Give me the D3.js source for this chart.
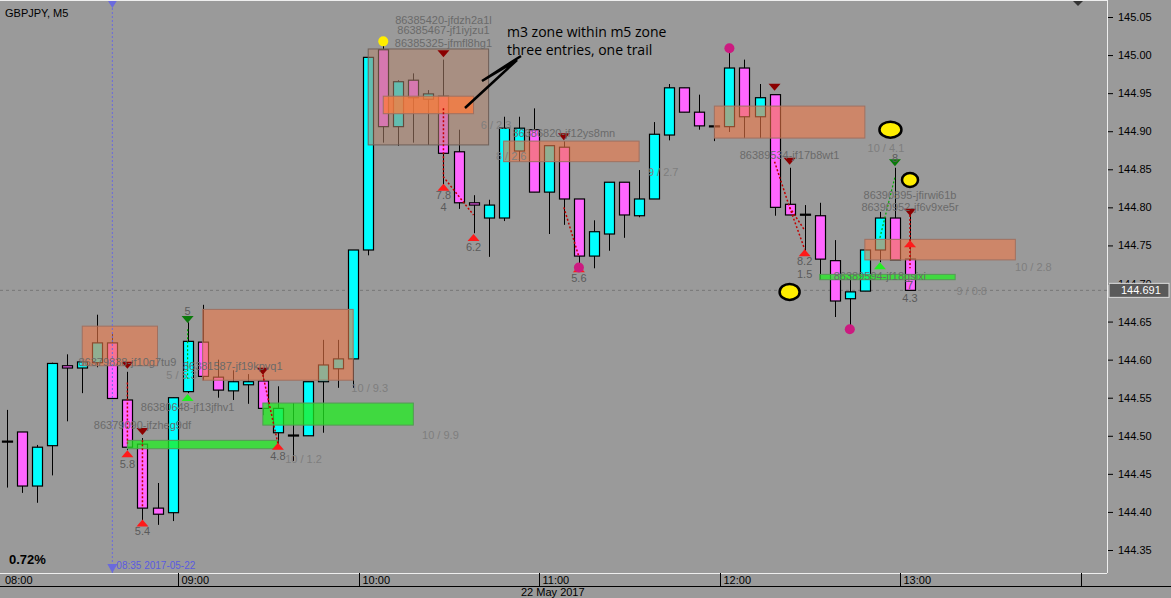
<!DOCTYPE html><html><head><meta charset="utf-8">
<script src="https://cdn.jsdelivr.net/npm/d3@7"></script>
<style>body{margin:0;background:#9a9a9a}svg{display:block;font-family:"Liberation Sans",Arial,sans-serif}</style></head><body>
<svg id="c" width="1171" height="598"></svg>
<script>
// ---- data ----
const opens  =[144.493,144.505,144.434,144.487,144.592,144.589,144.596,144.622,144.547,144.489,144.405,144.399,144.558,144.623,144.577,144.559,144.567,144.572,144.504,144.501,144.500,144.571,144.588,144.601,144.744,145.007,144.906,144.967,144.942,144.946,144.873,144.806,144.786,144.786,144.874,144.902,144.820,144.879,144.811,144.736,144.765,144.833,144.789,144.811,144.895,144.957,144.925,144.907,144.906,144.983,144.919,144.948,144.804,144.791,144.789,144.730,144.680,144.690,144.744,144.786,144.732];
const highs  =[144.534,144.505,144.488,144.596,144.607,144.597,144.659,144.634,144.584,144.497,144.438,144.550,144.649,144.672,144.600,144.586,144.581,144.584,144.565,144.543,144.571,144.626,144.626,144.744,144.997,145.018,144.967,144.976,144.954,144.994,144.902,144.816,144.810,144.919,144.919,144.930,144.881,144.887,144.811,144.783,144.833,144.833,144.849,144.912,144.962,144.957,144.948,144.907,145.009,144.994,144.962,144.948,144.852,144.803,144.806,144.757,144.711,144.744,144.794,144.852,144.797];
const lows   =[144.432,144.425,144.412,144.448,144.519,144.556,144.590,144.549,144.481,144.386,144.383,144.388,144.556,144.573,144.550,144.547,144.542,144.527,144.487,144.467,144.500,144.504,144.563,144.563,144.737,144.885,144.881,144.885,144.882,144.827,144.798,144.766,144.735,144.782,144.860,144.820,144.765,144.777,144.718,144.720,144.743,144.760,144.787,144.811,144.888,144.925,144.902,144.887,144.899,144.891,144.891,144.789,144.790,144.743,144.705,144.656,144.639,144.690,144.728,144.731,144.691];
const closes =[144.493,144.434,144.485,144.595,144.589,144.597,144.622,144.549,144.485,144.405,144.397,144.550,144.624,144.578,144.560,144.571,144.571,144.536,144.536,144.501,144.571,144.593,144.601,144.744,144.997,144.906,144.965,144.944,144.949,144.871,144.806,144.803,144.803,144.904,144.904,144.820,144.881,144.811,144.736,144.768,144.833,144.790,144.811,144.896,144.957,144.925,144.907,144.907,144.983,144.919,144.944,144.800,144.790,144.791,144.732,144.677,144.689,144.744,144.786,144.731,144.691];
const priceTicks=[144.35,144.40,144.45,144.50,144.55,144.60,144.65,144.70,144.75,144.80,144.85,144.90,144.95,145.00,145.05];
const timeTicks=[[0,"08:00"],[12,"09:00"],[24,"10:00"],[36,"11:00"],[48,"12:00"],[60,"13:00"],[72,""]];
// zones: [barFrom, barTo, top, bottom]
const orangeZones=[[5,10,144.644,144.592],[13,23,144.666,144.573],[33,42,144.887,144.860],[47,57,144.933,144.891],[57,67,144.758,144.731]];
const m5Zone=[24,32,145.008,144.882];
const m3Zone=[25,31,144.946,144.923];
const greenZones=[[17,27,144.543,144.514],[8,18,144.494,144.483],[54,63,144.712,144.705]];
const upTri=[[8,144.477],[9,144.386],[18,144.487],[29,144.827],[31,144.761],[38,144.720],[53,144.741],[60,144.753]];
const downTri=[[8,144.592],[9,144.505],[17,144.584],[29,145.001],[37,144.892],[51,144.957],[52,144.860],[60,144.793]];
const greenDown=[[12,144.652],[59,144.858]];
const greenUp=[[12,144.551],[58,144.724]];
const redTraces=[[[8,144.57],[8,144.49]],[[9,144.494],[9,144.405]],[[17,144.58],[18,144.49]],[[29,144.93],[29,144.84],[31,144.79]],[[37,144.80],[38,144.735]],[[51,144.86],[52,144.80],[53,144.77]],[[52,144.80],[53,144.745]],[[60,144.79],[60,144.72]]];
const greenTraces=[[[12,144.64],[12,144.575]],[[58,144.76],[59,144.84]]];
const labels=[[8,144.595,"86379838-jf10g7tu9"],[15,144.590,"86381587-jf19kpvq1"],[12,144.536,"86380648-jf13jfhv1"],[9,144.513,"86379090-jfzheg9df"],[11.6,144.579,"5 / 5.3"],[24.1,144.561,"10 / 9.3"],[19.7,144.468,"10 / 1.2"],[28.8,144.500,"10 / 9.9"],[8,144.462,"5.8"],[9,144.373,"5.4"],[18,144.472,"4.8"],[12,144.662,"5"],
 [29,145.045,"86385420-jfdzh2a1l"],[29,145.031,"86385467-jf1iyjzu1"],[29,145.015,"86385325-jfmfl8hg1"],[32.5,144.907,"6 / 2.3"],[37,144.896,"86386820-jf12ys8mn"],[33.5,144.866,"8 / 2.6"],[43.6,144.845,"9 / 2.7"],[29,144.815,"7.8"],[29,144.799,"4"],[31,144.747,"6.2"],[38,144.706,"5.6"],
 [52,144.867,"86389534-jf17b8wt1"],[58.4,144.877,"10 / 4.1"],[59,144.864,"8"],[60,144.815,"86390895-jfirwi61b"],[60,144.799,"86390952-jf6v9xe5r"],[53,144.728,"8.2"],[53,144.711,"1.5"],[58,144.709,"86389594-jf18gsixi"],[60,144.696,"7"],[60,144.680,"4.3"],[68.2,144.720,"10 / 2.8"],[64.1,144.689,"9 / 0.8"]];
const yellowBig=[[58.7,144.902,11,8],[60,144.836,8,7],[52,144.689,10,8]];
const magentaDots=[[48,145.009],[38,144.721],[56,144.640]];

// ---- scales ----
const svg=d3.select("#c");
const W=1107,H=573;
const x=d3.scaleLinear().domain([0,1]).range([7,22.05]);
const y=d3.scaleLinear().domain([144.35,145.05]).range([550,17]);
svg.append("rect").attr("width",1171).attr("height",598).attr("fill","#9a9a9a");
const g=svg.append("g");
g.append("line").attr("x1",0).attr("x2",W).attr("y1",y(144.691)).attr("y2",y(144.691)).attr("stroke","#777").attr("stroke-dasharray","3,3");
const cbw=10;
const candles=d3.range(opens.length);
const cg=g.append("g");
cg.selectAll(null).data(candles).join("line").attr("x1",i=>Math.round(x(i))+0.5).attr("x2",i=>Math.round(x(i))+0.5).attr("y1",i=>y(highs[i])).attr("y2",i=>y(lows[i])).attr("stroke","#000");
cg.selectAll(null).data(candles).join("rect").attr("x",i=>Math.round(x(i))-cbw/2+0.5).attr("width",cbw)
  .attr("y",i=>y(Math.max(opens[i],closes[i]))).attr("height",i=>Math.max(1,Math.abs(y(opens[i])-y(closes[i]))))
  .attr("fill",i=>closes[i]>opens[i]?"#00ffff":closes[i]<opens[i]?"#ff66ff":"#000").attr("stroke","#000").attr("stroke-width",1.2);
g.append("rect").attr("x",x(m5Zone[0])).attr("width",x(m5Zone[1])-x(m5Zone[0])).attr("y",y(m5Zone[2])).attr("height",y(m5Zone[3])-y(m5Zone[2])).attr("fill","#b5866f").attr("fill-opacity",0.55).attr("stroke","#6f6058");
g.selectAll(null).data(orangeZones).join("rect").attr("x",d=>x(d[0])).attr("width",d=>x(d[1])-x(d[0])).attr("y",d=>y(d[2])).attr("height",d=>y(d[3])-y(d[2])).attr("fill","#f07a4a").attr("fill-opacity",0.6).attr("stroke","#a07060");
g.append("rect").attr("x",x(m3Zone[0])).attr("width",x(m3Zone[1])-x(m3Zone[0])).attr("y",y(m3Zone[2])).attr("height",y(m3Zone[3])-y(m3Zone[2])).attr("fill","#ff7a3a").attr("fill-opacity",0.75).attr("stroke","#a07060");
g.selectAll(null).data(greenZones).join("rect").attr("x",d=>x(d[0])).attr("width",d=>x(d[1])-x(d[0])).attr("y",d=>y(d[2])).attr("height",d=>y(d[3])-y(d[2])).attr("fill","#22ee22").attr("fill-opacity",0.75).attr("stroke","#559955");
const ln=d3.line().x(d=>x(d[0])).y(d=>y(d[1]));
g.selectAll(null).data(redTraces).join("path").attr("d",ln).attr("fill","none").attr("stroke","#c00000").attr("stroke-width",1.5).attr("stroke-dasharray","2,2");
g.selectAll(null).data(greenTraces).join("path").attr("d",ln).attr("fill","none").attr("stroke","#00aa00").attr("stroke-width",1.2).attr("stroke-dasharray","2,2");
const tri=(sel,data,col,up)=>sel.selectAll(null).data(data).join("path").attr("transform",d=>`translate(${x(d[0])},${y(d[1])})`).attr("d",up?"M-6,4L6,4L0,-3Z":"M-6,-4L6,-4L0,3Z").attr("fill",col);
tri(g,upTri,"#ff1a1a",true);tri(g,downTri,"#8b0000",false);tri(g,greenDown,"#0a7a0a",false);tri(g,greenUp,"#22ee22",true);
g.selectAll(null).data(labels).join("text").attr("x",d=>x(d[0])).attr("y",d=>y(d[1])).attr("text-anchor","middle").attr("dominant-baseline","middle").attr("font-size",11).attr("fill",d=>/^\d+(\.\d)?$/.test(d[2])?"#5a5a5a":d[2].includes("/")?"#7e7e7e":"#6a6a6a").text(d=>d[2]);
g.append("circle").attr("cx",x(25)).attr("cy",y(145.018)).attr("r",5).attr("fill","#ffee00");
g.selectAll(null).data(yellowBig).join("ellipse").attr("cx",d=>x(d[0])).attr("cy",d=>y(d[1])).attr("rx",d=>d[2]).attr("ry",d=>d[3]).attr("fill","#ffee00").attr("stroke","#000").attr("stroke-width",2.5);
g.selectAll(null).data(magentaDots).join("circle").attr("cx",d=>x(d[0])).attr("cy",d=>y(d[1])).attr("r",5).attr("fill","#cc1a80");
g.append("text").attr("x",507).attr("y",37).attr("font-family","'Open Sans',sans-serif").attr("font-size",14).attr("fill","#000").text("m3 zone within m5 zone");
g.append("text").attr("x",507).attr("y",55).attr("font-family","'Open Sans',sans-serif").attr("font-size",14).attr("fill","#000").text("three entries, one trail");
g.append("path").attr("d","M521,56L482,81L517,60L465,108").attr("fill","none").attr("stroke","#000").attr("stroke-width",2.5);
const vx=x(7);
g.append("line").attr("x1",vx).attr("x2",vx).attr("y1",0).attr("y2",H).attr("stroke","#6a6add").attr("stroke-dasharray","2,2");
g.append("path").attr("d",`M${vx-5},0L${vx+5},0L${vx},8Z`).attr("fill","#6a6add");
g.append("path").attr("d",`M${vx-5},564L${vx+5},564L${vx},573Z`).attr("fill","#6a6add");
g.append("text").attr("x",vx+4).attr("y",569).attr("font-size",10).attr("fill","#5a5ae0").text("08:35 2017-05-22");
g.append("path").attr("d","M1072,0L1084,0L1078,6Z").attr("fill","#333");
svg.append("text").attr("x",5).attr("y",17).attr("font-size",11).attr("fill","#000").text("GBPJPY, M5");
svg.append("text").attr("x",9).attr("y",564).attr("font-size",13).attr("font-weight","bold").attr("fill","#000").text("0.72%");
svg.append("line").attr("x1",W+0.5).attr("x2",W+0.5).attr("y1",0).attr("y2",H).attr("stroke","#eee");
svg.append("line").attr("x1",0).attr("x2",W).attr("y1",H+0.5).attr("y2",H+0.5).attr("stroke","#eee");
svg.append("line").attr("x1",0).attr("x2",1171).attr("y1",586.5).attr("y2",586.5).attr("stroke","#000");
svg.append("line").attr("x1",0).attr("x2",W).attr("y1",0.5).attr("y2",0.5).attr("stroke","#eee");
const ya=d3.axisRight(y).tickValues(priceTicks).tickSize(5).tickFormat(d3.format(".2f"));
const yg=svg.append("g").attr("transform",`translate(${W+1},0)`).call(ya);
yg.select(".domain").remove();
yg.selectAll("text").attr("font-size",11).attr("fill","#000").attr("x",10).attr("font-family","'Liberation Sans',Arial");
yg.selectAll("line").attr("stroke","#000");
svg.append("rect").attr("x",1109).attr("y",y(144.691)-7).attr("width",60).attr("height",14).attr("fill","#5a5a5a").attr("stroke","#ddd");
svg.append("text").attr("x",1121).attr("y",y(144.691)+4).attr("font-size",11).attr("fill","#fff").text("144.691");
const sepX=i=>Math.round(x(i)-1.5*15.05+13)+0.5;
const tg=svg.append("g").selectAll(null).data(timeTicks).join("g");
tg.filter(d=>d[0]>0).append("line").attr("x1",d=>sepX(d[0])).attr("x2",d=>sepX(d[0])).attr("y1",H).attr("y2",586).attr("stroke","#000");
tg.append("text").attr("x",d=>d[0]>0?sepX(d[0])+3:5).attr("y",584).attr("font-size",11).attr("fill","#000").text(d=>d[1]);
svg.append("text").attr("x",521).attr("y",596).attr("font-size",11).attr("fill","#000").text("22 May 2017");
</script></body></html>
